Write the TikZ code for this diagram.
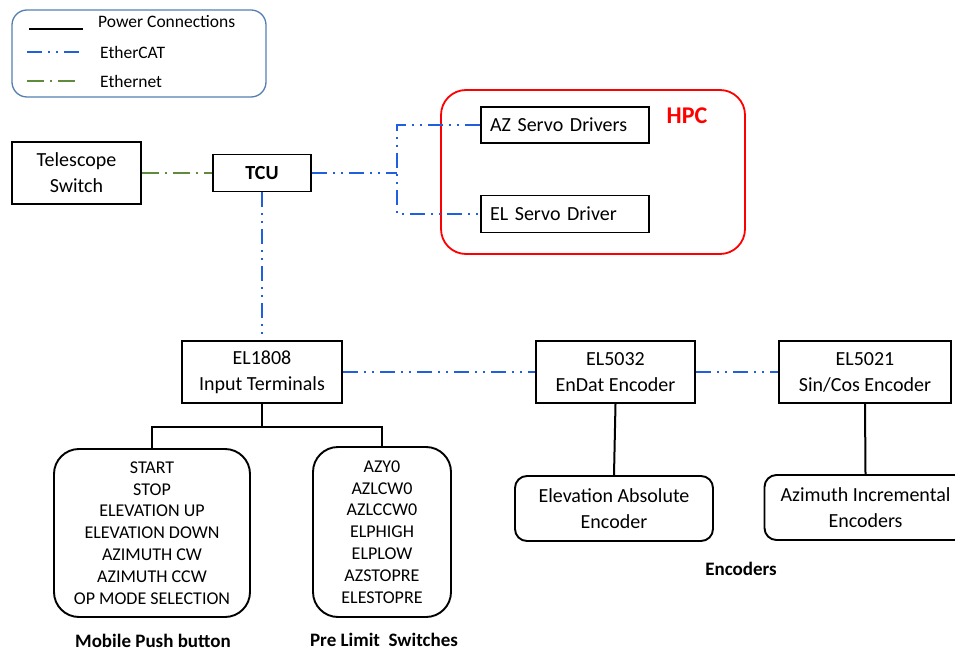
\documentclass[tikz,border=0pt]{standalone}
\usepackage{fontspec}
\setmainfont{Carlito}
\definecolor{ecblue}{RGB}{32,96,222}
\definecolor{engreen}{RGB}{96,138,60}
\definecolor{legblue}{RGB}{84,128,176}
\definecolor{hpcred}{RGB}{255,0,0}
\begin{document}
\begin{tikzpicture}[x=1pt,y=-1pt,
  box/.style={draw=black,line width=1.9pt,minimum width=#1,inner sep=0pt,align=center,font=\fontsize{20}{26}\selectfont},
  rbox/.style={draw=black,line width=1.9pt,rounded corners=12pt,minimum width=#1,inner sep=0pt,align=center,font=\fontsize{20}{26}\selectfont},
  listbox/.style={draw=black,line width=1.9pt,rounded corners=25pt,minimum width=#1,inner sep=0pt,align=center,font=\fontsize{18}{21.8}\selectfont},
  ecat/.style={draw=ecblue,line width=2.2pt,dash pattern=on 15pt off 6pt on 2pt off 6pt on 2pt off 6pt},
  enet/.style={draw=engreen,line width=2.2pt,dash pattern=on 17pt off 6pt on 2pt off 6pt},
  power/.style={draw=black,line width=2pt},
  legtext/.style={anchor=west,inner sep=0pt,font=\fontsize{17.5}{20}\selectfont},
  caption/.style={inner sep=0pt,font=\fontsize{19}{22}\selectfont\bfseries}
]
\useasboundingbox (0,0) rectangle (955,652);

% legend
\node[draw=legblue,line width=1.3pt,rounded corners=15pt,minimum width=254pt,minimum height=87pt,inner sep=0pt] (legend) at (139,53.5) {};
\coordinate (p1) at (29,29); \coordinate (p2) at (83,29);
\coordinate (e1) at (27,52); \coordinate (e2) at (83,52);
\coordinate (g1) at (27,81); \coordinate (g2) at (78,81);
\draw[power] (p1) -- (p2);
\draw[ecat] (e1) -- (e2);
\draw[enet] (g1) -- (g2);
\node[legtext] (lp) at (98,22) {Power Connections};
\node[legtext] (le) at (100,52) {EtherCAT};
\node[legtext] (lg) at (100,81) {Ethernet};

% HPC
\node[draw=hpcred,line width=1.8pt,rounded corners=25pt,minimum width=304pt,minimum height=164pt,inner sep=0pt] (hpc) at (593,172) {};
\node[inner sep=0pt,text=hpcred,font=\fontsize{24}{28}\selectfont\bfseries] (hpclabel) at (687,116) {HPC};

% top row
\node[box=129pt,minimum height=62pt] (tel) at (76.5,173) {Telescope\\Switch};
\node[box=98pt,minimum height=37pt,font=\fontsize{20}{26}\selectfont\bfseries] (tcu) at (262,173) {TCU};
\node[box=168pt,minimum height=36pt,text width=150pt,align=left] (az) at (565,125) {AZ Servo Drivers};
\node[box=168pt,minimum height=37pt,text width=150pt,align=left] (els) at (565,214) {EL Servo Driver};

% middle row
\node[box=160pt,minimum height=62pt] (el1808) at (262,372) {EL1808\\Input Terminals};
\node[box=159pt,minimum height=62pt] (el5032) at (615.5,372) {EL5032\\EnDat Encoder};
\node[box=172pt,minimum height=62pt] (el5021) at (865,372) {EL5021\\Sin/Cos Encoder};

% bottom row
\node[rbox=198pt,minimum height=65pt] (elabs) at (614,508.5) {Elevation Absolute\\Encoder};
\node[rbox=202pt,minimum height=65pt] (azinc) at (865.5,507.5) {Azimuth Incremental\\Encoders};
\node[listbox=196pt,minimum height=168pt] (mob) at (152,533) {START\\STOP\\ELEVATION UP\\ELEVATION DOWN\\AZIMUTH CW\\AZIMUTH CCW\\OP MODE SELECTION};
\node[listbox=138pt,minimum height=170pt] (pre) at (382,532) {AZY0\\AZLCW0\\AZLCCW0\\ELPHIGH\\ELPLOW\\AZSTOPRE\\ELESTOPRE};

% captions
\node[caption] (capmob) at (153,641) {Mobile Push button};
\node[caption] (cappre) at (384,640) {Pre Limit\ \ Switches};
\node[caption] (capenc) at (741,569) {Encoders};

% connectors
\draw[enet] (tel.east) -- (tcu.west);
\coordinate (j) at (397,173);
\draw[ecat] (tcu.east) -- (j);
\draw[ecat] (az.west) -| (j) |- (els.west);
\draw[ecat] (tcu.south) -- (el1808.north);
\draw[ecat] (el1808.east) -- (el5032.west);
\draw[ecat] (el5032.east) -- (el5021.west);

\coordinate (b) at (262,427);
\draw[power] (el1808.south) -- (b);
\draw[power] (b) -| (mob.north);
\draw[power] (b) -| (pre.north);
\draw[power] (el5032.south) -- (elabs.north);
\draw[power] (el5021.south) -- (azinc.north);
\end{tikzpicture}
\end{document}
